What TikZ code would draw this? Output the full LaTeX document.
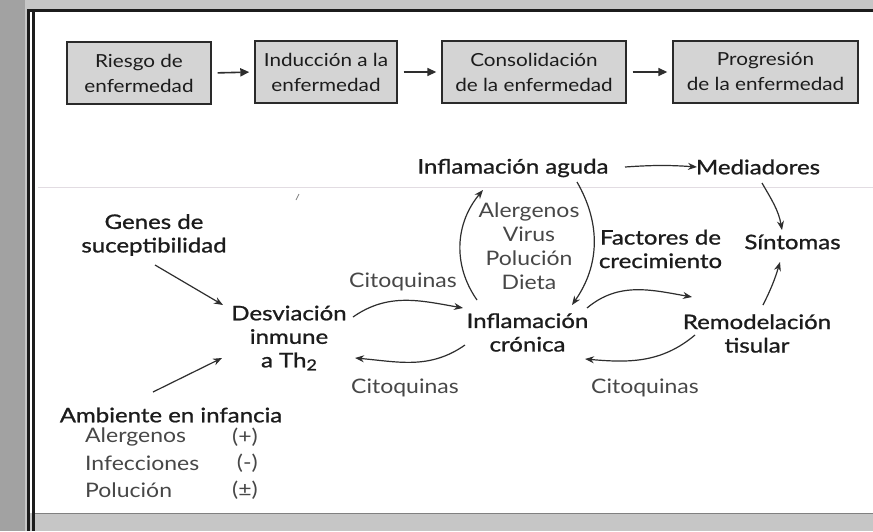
\documentclass[tikz,border=0pt]{standalone}
\usepackage{fontspec}
\setmainfont{Lato}
\newfontfamily\heavyfont{Lato}[FakeBold=1,FakeStretch=1.2]
\newfontfamily\softfont{Lato}[FakeStretch=1.15]
\newfontfamily\boxfont{Lato}[FakeStretch=1.15]
\usetikzlibrary{arrows.meta}
\definecolor{strip}{HTML}{A2A2A2}
\definecolor{topstrip}{HTML}{C6C6C6}
\definecolor{boxfill}{HTML}{D4D4D4}
\definecolor{boxline}{HTML}{2A2A2A}
\definecolor{ink}{HTML}{1C1C1C}
\definecolor{soft}{HTML}{474747}
\definecolor{arrowc}{HTML}{2E2E2E}
\definecolor{faint}{HTML}{E2DCE2}
\begin{document}
\begin{tikzpicture}[x=1pt,y=1pt,
  stagebox/.style={draw=boxline, line width=1.4pt, fill=boxfill, align=center, inner sep=0pt,
    font=\boxfont\fontsize{18}{25}\selectfont, text=ink},
  mainlbl/.style={align=center, inner sep=0pt, font=\heavyfont\fontsize{20}{23.5}\selectfont, text=ink},
  softlbl/.style={align=center, inner sep=0pt, font=\softfont\fontsize{20}{24}\selectfont, text=soft},
  arr/.style={draw=arrowc, line width=1.2pt, -{Stealth[length=9pt,width=7pt]}},
  stagearr/.style={draw=arrowc, line width=1.6pt, -{Triangle[length=9pt,width=8pt]},
    shorten <=6pt, shorten >=5pt}
]
\useasboundingbox (0,0) rectangle (873,-531);
% scanned page background and frame
\fill[topstrip] (0,0) rectangle (873,-531);
\fill[strip] (0,0) rectangle (25,-531);
\fill[white] (27,-10) rectangle (873,-513);
\draw[ink, line width=2.2pt] (27,-10.5) -- (873,-10.5);
\draw[ink, line width=2.4pt] (28.5,-9.5) -- (28.5,-531);
\draw[ink, line width=2.4pt] (33.5,-11.5) -- (33.5,-531);
\draw[gray, line width=1pt] (35,-513) -- (873,-513);
\draw[faint, line width=0.8pt] (38,-187) -- (873,-187);
\draw[gray, line width=0.8pt] (296,-200) -- (299,-194);

% stage boxes
\node[stagebox, minimum width=144pt, minimum height=62pt] (b1) at (139,-73) {Riesgo de\\enfermedad};
\node[stagebox, minimum width=142pt, minimum height=62pt] (b2) at (326,-72) {Inducción a la\\enfermedad};
\node[stagebox, minimum width=184pt, minimum height=62pt] (b3) at (534,-72) {Consolidación\\de la enfermedad};
\node[stagebox, minimum width=185pt, minimum height=62pt] (b4) at (765.5,-72) {Progresión\\de la enfermedad};
\draw[stagearr] (b1.east) -- (b2.west);
\draw[stagearr] (b2.east) -- (b3.west);
\draw[stagearr] (b3.east) -- (b4.west);

% labels
\node[mainlbl] (aguda) at (513,-168) {Inflamación aguda};
\node[mainlbl] (med) at (758,-167) {Mediadores};
\node[mainlbl] (genes) at (154,-235) {Genes de\\suceptibilidad};
\node[mainlbl] (desv) at (289,-338) {Desviación\\inmune\\a Th\raisebox{-3pt}{\fontsize{15}{15}\selectfont 2}};
\node[mainlbl] (amb) at (171,-415) {Ambiente en infancia};
\node[softlbl, anchor=west] (l1) at (85,-437) {Alergenos};
\node[softlbl, anchor=west] (l2) at (85,-463) {Infecciones};
\node[softlbl, anchor=west] (l3) at (85,-490) {Polución};
\node[softlbl, anchor=east] (s1) at (258,-437) {(+)};
\node[softlbl, anchor=east] (s2) at (258,-463) {(-)};
\node[softlbl, anchor=east] (s3) at (258,-490) {(±)};
\node[softlbl] (alerg) at (529,-246.5) {Alergenos\\Virus\\Polución\\Dieta};
\node[mainlbl] (cron) at (527.5,-332.5) {Inflamación\\crónica};
\node[mainlbl] (fact) at (660.5,-249) {Factores de\\crecimiento};
\node[mainlbl] (sint) at (792.5,-242) {Síntomas};
\node[mainlbl] (remod) at (757,-333.5) {Remodelación\\tisular};
\node[softlbl] (cq1) at (403,-282) {Citoquinas};
\node[softlbl] (cq2) at (405,-388) {Citoquinas};
\node[softlbl] (cq3) at (645,-388) {Citoquinas};

% connectors
\draw[arr] ([shift={(112,1)}]aguda.center) to[bend left=4] ([shift={(-61,0)}]med.center);
\draw[arr] ([shift={(4,-16)}]med.center) to[out=-60,in=100] ([shift={(-10.5,12)}]sint.center);
\draw[arr] ([shift={(6,28.5)}]remod.center) to[bend right=5] ([shift={(-12.5,-20)}]sint.center);
\draw[arr] ([shift={(1,-30)}]genes.center) -- ([shift={(-66,33)}]desv.center);
\draw[arr] ([shift={(-18,23)}]amb.center) -- ([shift={(-67,-20)}]desv.center);
\draw[arr] ([shift={(64,21)}]desv.center) to[out=35,in=170] ([shift={(-64.5,24.5)}]cron.center);
\draw[arr] ([shift={(-62.5,-12.5)}]cron.center) to[out=-145,in=-5] ([shift={(66,-20)}]desv.center);
\draw[arr] ([shift={(-50.5,32.5)}]cron.center) to[out=125,in=-130] ([shift={(-30,-22)}]aguda.center);
\draw[arr] ([shift={(64,-14)}]aguda.center) to[out=-60,in=55] ([shift={(44.5,27.5)}]cron.center);
\draw[arr] ([shift={(59.5,24.5)}]cron.center) to[out=40,in=170] ([shift={(-65,36.5)}]remod.center);
\draw[arr] ([shift={(-62,-1.5)}]remod.center) to[out=-140,in=-5] ([shift={(57.5,-26.5)}]cron.center);
\end{tikzpicture}
\end{document}
